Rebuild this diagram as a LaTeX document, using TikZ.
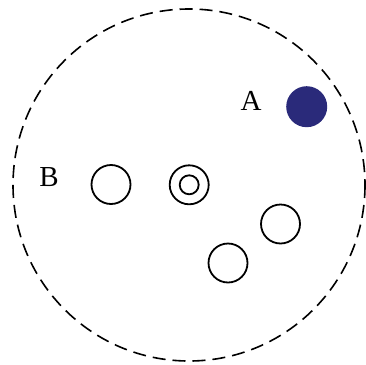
\documentclass[tikz,border=0pt]{standalone}
\usepackage{fontspec}
\setmainfont{Liberation Serif}
\begin{document}
\begin{tikzpicture}[x=1pt,y=-1pt,
  ring/.style={circle,draw=black,line width=1.8pt,minimum size=39pt,inner sep=0pt},
  innerring/.style={circle,draw=black,line width=1.8pt,minimum size=19pt,inner sep=0pt},
  lab/.style={font=\fontsize{29}{32}\selectfont,inner sep=0pt}]
\useasboundingbox (0,0) rectangle (366,364);
\draw[line width=1.6pt,dash pattern=on 13pt off 7pt] (189,185) circle[radius=176];
\node[circle,fill={rgb,255:red,42;green,42;blue,122},minimum size=41pt,inner sep=0pt] (a) at (306.7,106.7) {};
\node[lab] (la) at (251,101) {A};
\node[lab] (lb) at (49,177) {B};
\node[ring] (c1) at (111,184.5) {};
\node[ring] (c2) at (189.2,184.8) {};
\node[innerring] (c2i) at (189.2,184.8) {};
\node[ring] (c3) at (280.5,224) {};
\node[ring] (c4) at (228,263) {};
\end{tikzpicture}
\end{document}
